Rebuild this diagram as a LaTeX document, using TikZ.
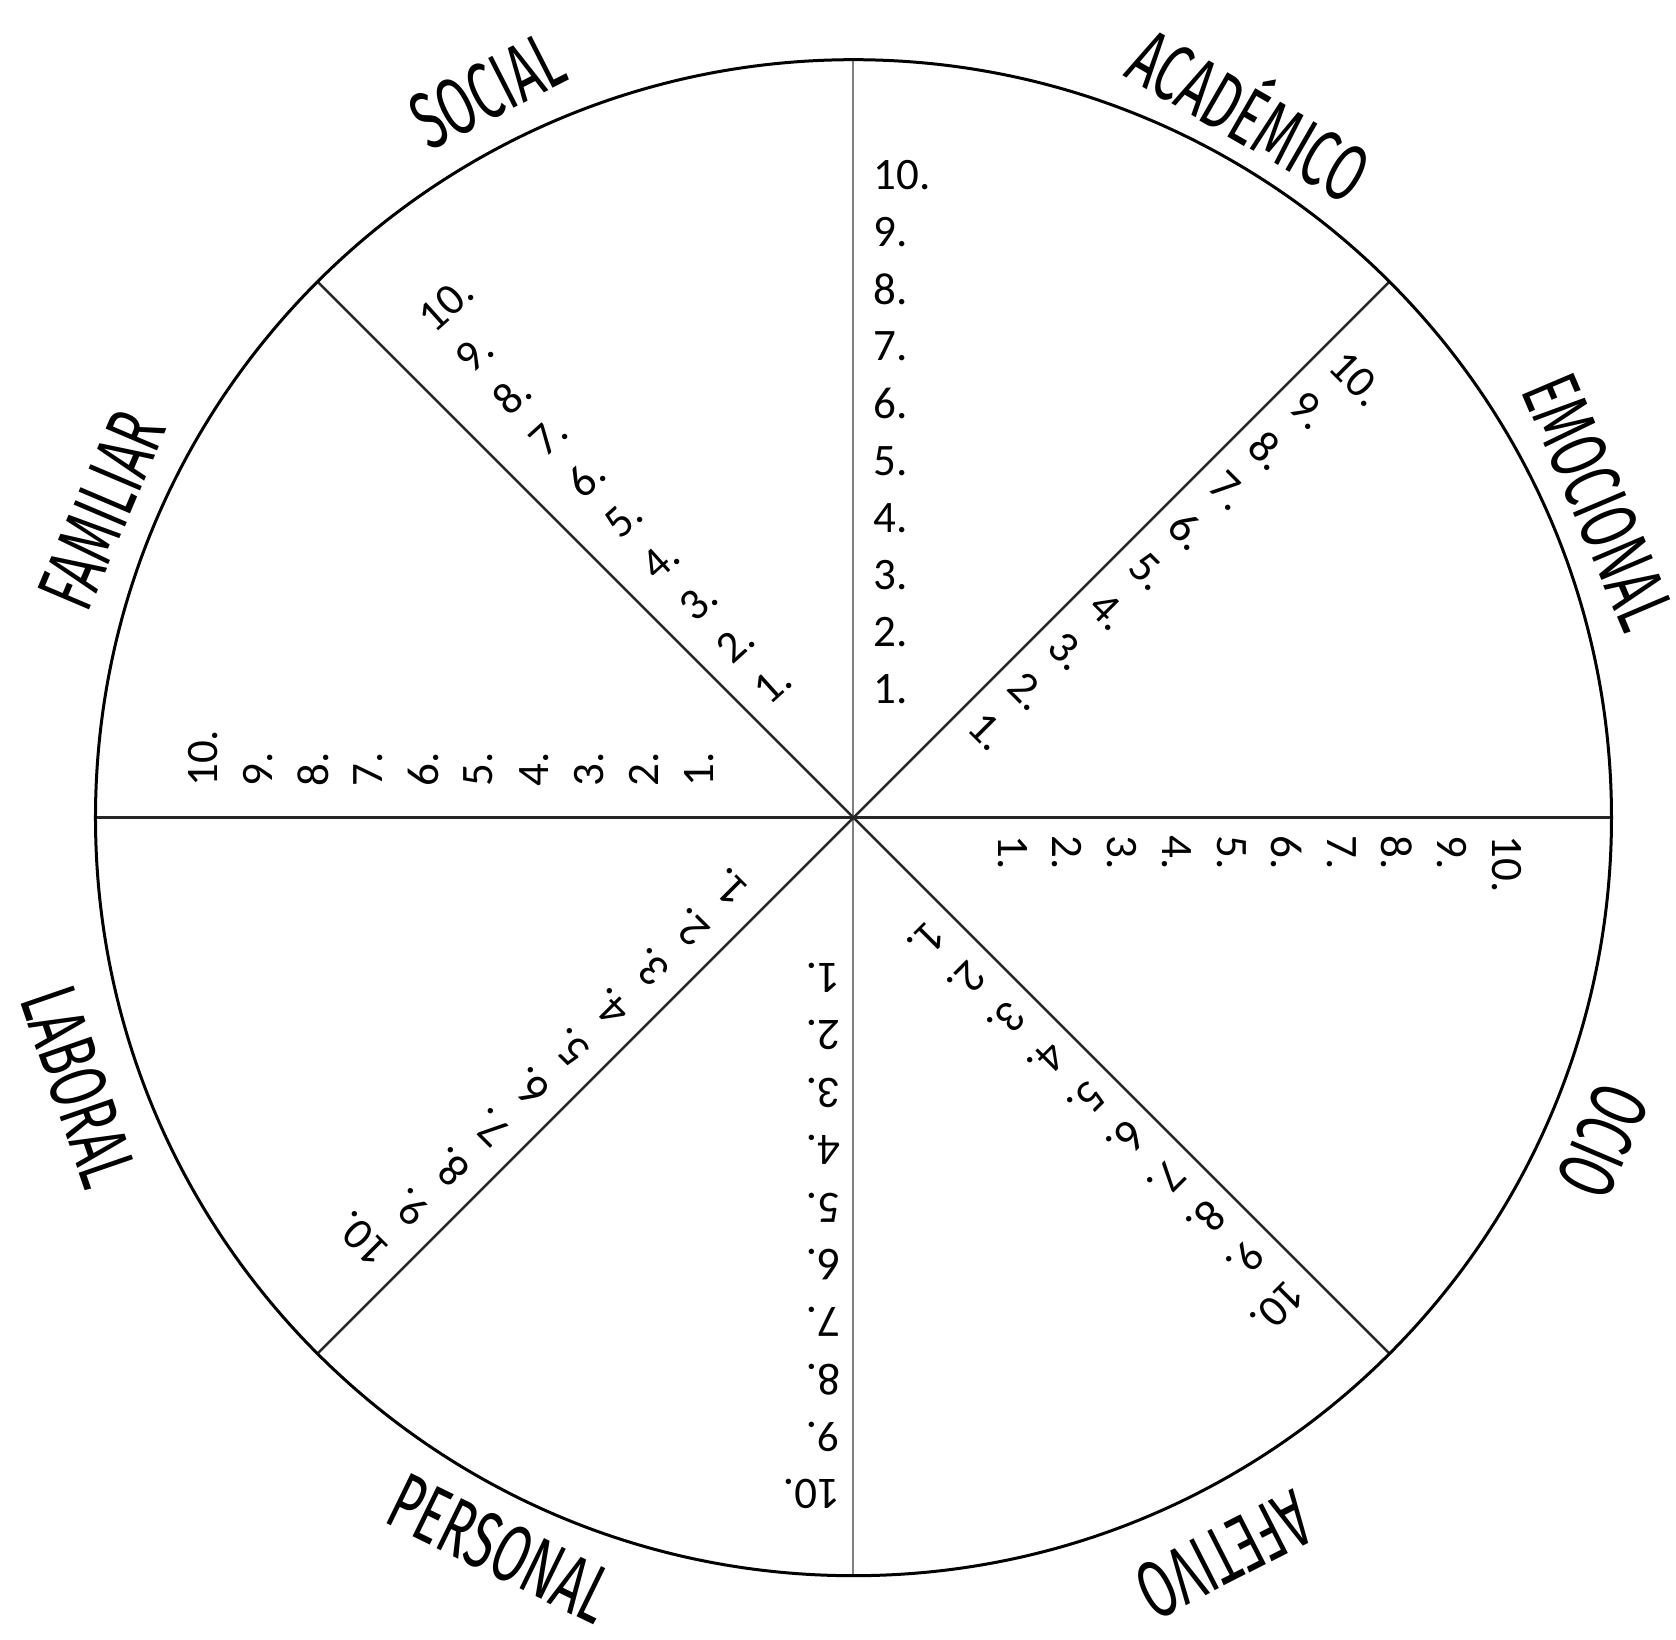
\documentclass[tikz,border=0pt]{standalone}
\usepackage{fontspec}
\newfontfamily\numfont{Carlito}
\newfontfamily\lblfont[FakeStretch=0.62]{Fira Sans}
\newcommand\numblock[5]{%
  \begin{scope}[rotate=#1]
    \foreach \k in {1,...,10}
      \node[numtxt] (#5-\k) at (#2, {#3+(\k-1)*#4}) {\k.};
  \end{scope}}
\begin{document}
\begin{tikzpicture}[x=1pt,y=1pt,
  spoke/.style={draw=black!85, line width=2.5pt},
  vspoke/.style={draw=black!50, line width=2pt},
  rim/.style={draw=black, line width=3pt},
  numtxt/.style={font=\numfont\fontsize{45}{54}\selectfont, inner sep=0pt, outer sep=0pt, transform shape, anchor=west},
  lbl/.style={font=\lblfont\fontsize{81}{88}\selectfont, inner sep=0pt}]
\useasboundingbox (-853.5,-822.3) rectangle (822.5,817.7);
\node[circle, minimum size=1516pt, outer sep=0pt, inner sep=0pt] (wheel) at (0,0) {};
\draw[vspoke] (wheel.90) -- (wheel.270);
\foreach \a in {0,45,135,180,225,315} \draw[spoke] (wheel.center) -- (wheel.\a);
\draw[rim] (wheel.center) circle[radius=758pt];
% number columns
\numblock{0}{20}{128}{57.2}{acad}
\numblock{-45}{17}{156}{56.7}{emoc}
\numblock{-90}{18}{159}{54.9}{ocio}
\numblock{-135}{18}{139}{56.4}{afet}
\numblock{180}{13}{160}{57.4}{pers}
\numblock{135}{21}{137}{56.5}{labo}
\numblock{90}{31}{154}{55.2}{fami}
\numblock{42}{12}{153}{55.7}{soci}
% labels
\node[lbl, rotate=27] (social) at (-366,727) {SOCIAL};
\node[lbl, rotate=-30] (academico) at (399.5,708.7) {ACADÉMICO};
\node[lbl, rotate=-67] (emocional) at (745,316) {EMOCIONAL};
\node[lbl, rotate=-113] (ocio) at (749.5,-323.3) {OCIO};
\node[lbl, rotate=-153] (afetivo) at (370.5,-737.3) {AFETIVO};
\node[lbl, rotate=-26] (personal) at (-352.5,-731) {PERSONAL};
\node[lbl, rotate=-71] (laboral) at (-774.5,-269.3) {LABORAL};
\node[lbl, rotate=67] (familiar) at (-751.5,307.7) {FAMILIAR};
\end{tikzpicture}
\end{document}
